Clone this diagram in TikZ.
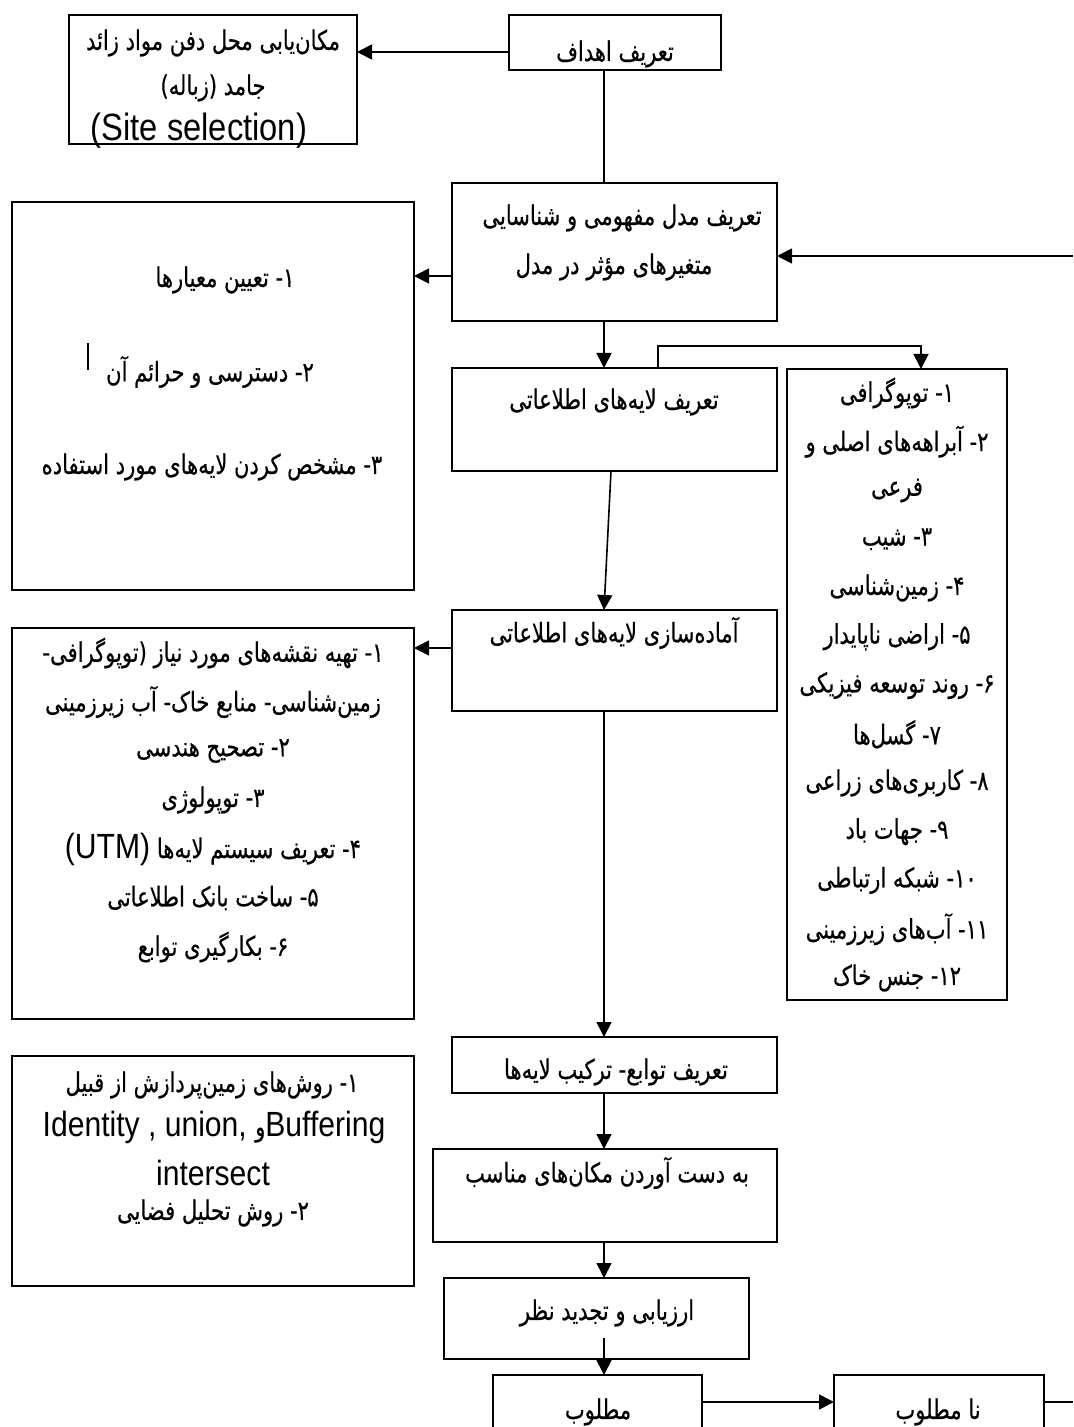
\documentclass[tikz,border=0pt]{standalone}
\usepackage{fontspec}
\usetikzlibrary{arrows.meta,calc}
\TeXXeTstate=1
\newfontfamily\fa[Script=Arabic,FakeStretch=0.78,FakeBold=0.5]{DejaVu Sans}
\newfontfamily\la[FakeStretch=0.86]{Liberation Sans}
\newcommand\FA[1]{{\fa\beginR #1\endR}}
\newcommand\hy{\kern0pt-}
\newcommand\bx[5]{\node[box, minimum width=#4*0.5pt, minimum height=#5*0.5pt] (#1) at (#2,#3) {};}
\begin{document}
\begin{tikzpicture}[x=0.5pt,y=-0.5pt,
  box/.style={draw, line width=0.9pt, inner sep=0pt, outer sep=0pt, anchor=north west},
  tx/.style={inner sep=0pt, font=\fa\fontsize{13.5}{16}\selectfont},
  lt/.style={inner sep=0pt, font=\la\fontsize{17.5}{20}\selectfont},
  arr/.style={-{Triangle[length=7.5pt,width=7.5pt]}, line width=0.8pt},
  ln/.style={line width=0.8pt}]
\path[use as bounding box] (0,0) rectangle (1073,1427);
\clip (0,0) rectangle (1073,1427);
% boxes
\bx{site}{69}{15}{288}{129}
\bx{A}{509}{15}{212}{55}
\bx{B}{452}{183}{325}{138}
\bx{C}{12}{202}{402}{388}
\bx{D}{452}{368}{325}{103}
\bx{E}{787}{369}{220}{631}
\bx{G}{452}{610}{325}{101}
\bx{F}{12}{628}{402}{391}
\bx{H}{452}{1037}{325}{56}
\bx{I}{433}{1149}{344}{93}
\bx{J}{444}{1278}{305}{81}
\bx{K}{493}{1375}{209}{70}
\bx{L}{834}{1375}{210}{70}
\bx{M}{12}{1056}{402}{230}
% texts
\node[tx] (tS1) at (213,43) {\FA{مکان‌یابی محل دفن مواد زائد}};
\node[tx] (tS2) at (213,88) {\FA{جامد (زباله)}};
\node[lt, font=\la\fontsize{19}{21}\selectfont] (tS3) at (199,131) {(Site selection)};
\node[tx] (tA) at (615,54) {\FA{تعریف اهداف}};
\node[tx] (tB1) at (622,218) {\FA{تعریف مدل مفهومی و شناسایی}};
\node[tx] (tB2) at (614,267) {\FA{متغیرهای مؤثر در مدل}};
\node[tx] (tC1) at (225,280) {\FA{۱\hy{} تعیین معیارها}};
\node[tx] (tC2) at (210,372) {\FA{۲\hy{} دسترسی و حرائم آن}};
\node[tx] (tC3) at (212,467) {\FA{۳\hy{} مشخص کردن لایه‌های مورد استفاده}};
\node[tx] (tD) at (614,402) {\FA{تعریف لایه‌های اطلاعاتی}};
\node[tx] (tE1) at (897,393) {\FA{۱\hy{} توپوگرافی}};
\node[tx] (tE2) at (897,441.75) {\FA{۲\hy{} آبراهه‌های اصلی و}};
\node[tx] (tE3) at (897,490.5) {\FA{فرعی}};
\node[tx] (tE4) at (897,539.25) {\FA{۳\hy{} شیب}};
\node[tx] (tE5) at (897,588) {\FA{۴\hy{} زمین‌شناسی}};
\node[tx] (tE6) at (897,636.75) {\FA{۵\hy{} اراضی ناپایدار}};
\node[tx] (tE7) at (897,685.5) {\FA{۶\hy{} روند توسعه فیزیکی}};
\node[tx] (tE8) at (897,734.25) {\FA{۷\hy{} گسل‌ها}};
\node[tx] (tE9) at (897,783) {\FA{۸\hy{} کاربری‌های زراعی}};
\node[tx] (tE10) at (897,831.75) {\FA{۹\hy{} جهات باد}};
\node[tx] (tE11) at (897,880.5) {\FA{\beginL ۱۰\endL\hy{} شبکه ارتباطی}};
\node[tx] (tE12) at (897,929.25) {\FA{\beginL ۱۱\endL\hy{} آب‌های زیرزمینی}};
\node[tx] (tE13) at (897,978) {\FA{\beginL ۱۲\endL\hy{} جنس خاک}};
\node[tx] (tG) at (614,633) {\FA{آماده‌سازی لایه‌های اطلاعاتی}};
\node[tx] (tF1) at (213,653) {\FA{۱\hy{} تهیه نقشه‌های مورد نیاز (\kern0pt توپوگرافی\hy}};
\node[tx] (tF2) at (213,702) {\FA{زمین‌شناسی\hy{} منابع خاک\hy{} آب زیرزمینی}};
\node[tx] (tF3) at (213,751) {\FA{۲\hy{} تصحیح هندسی}};
\node[tx] (tF4) at (213,800) {\FA{۳\hy{} توپولوژی}};
\node[tx] (tF5) at (213,849) {\FA{۴\hy{} تعریف سیستم لایه‌ها {\la\fontsize{17.5}{20}\selectfont (UTM)}}};
\node[tx] (tF6) at (213,898) {\FA{۵\hy{} ساخت بانک اطلاعاتی}};
\node[tx] (tF7) at (213,947) {\FA{۶\hy{} بکارگیری توابع}};
\node[tx] (tH) at (616,1072) {\FA{تعریف توابع\hy{} ترکیب لایه‌ها}};
\node[tx] (tI) at (607,1173) {\FA{به دست آوردن مکان‌های مناسب}};
\node[tx] (tJ) at (607,1313) {\FA{ارزیابی و تجدید نظر}};
\node[tx] (tK) at (598,1412) {\FA{مطلوب}};
\node[tx] (tL) at (938,1412) {\FA{نا مطلوب}};
\node[tx] (tM1) at (212,1085) {\FA{۱\hy{} روش‌های زمین‌پردازش از قبیل}};
\node[lt] (tM2) at (214,1127) {Identity , union, {\fa\fontsize{13.5}{16}\selectfont و}Buffering};
\node[lt] (tM3) at (213,1173) {intersect};
\node[tx] (tM4) at (213,1213) {\FA{۲\hy{} روش تحلیل فضایی}};
% coordinates
\coordinate (spine) at (604,0);
\coordinate (yA) at (0,52);
\coordinate (fbin) at (1073,256);
\coordinate (yBC) at (0,276);
\coordinate (bxx) at (658,0);
\coordinate (yBr) at (0,346);
\coordinate (exx) at (921,0);
\coordinate (dxx) at (611,0);
\coordinate (yGF) at (0,648);
\coordinate (yK) at (0,1402);
\coordinate (fbout) at (1073,1402);
% connectors
\draw[arr] (A.west |- yA) -- (site.east |- yA);
\draw[ln] (A.south -| spine) -- (B.north -| spine);
\draw[arr] (fbin) -- (fbin -| B.east);
\draw[arr] (B.west |- yBC) -- (C.east |- yBC);
\draw[arr] (B.south -| spine) -- (D.north -| spine);
\draw[arr] (D.north -| bxx) -- (bxx |- yBr) -| (E.north -| exx);
\draw[arr] (D.south -| dxx) -- (G.north -| spine);
\draw[arr] (G.west |- yGF) -- (F.east |- yGF);
\draw[arr] (G.south -| spine) -- (H.north -| spine);
\draw[arr] (H.south -| spine) -- (I.north -| spine);
\draw[arr] (I.south -| spine) -- (J.north -| spine);
\draw[arr] ($(J.south -| spine)+(0,-21)$) -- (K.north -| spine);
\draw[arr] (K.east |- yK) -- (L.west |- yK);
\draw[ln] (L.east |- yK) -- (fbout);
% stray bar in C
\draw[ln] (88,343) -- (88,370);
\end{tikzpicture}
\end{document}
